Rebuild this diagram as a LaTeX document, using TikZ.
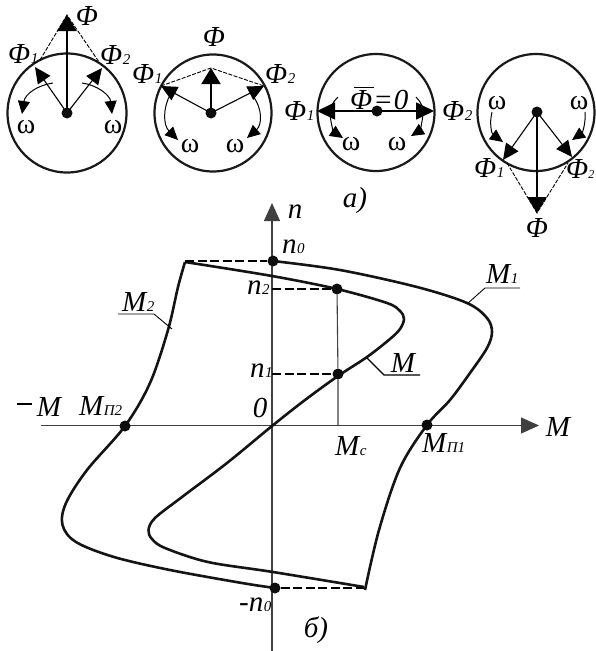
\documentclass[tikz,border=0pt]{standalone}
\usepackage{fontspec}
\setmainfont{Liberation Serif}
\usetikzlibrary{arrows.meta}
\tikzset{
 x=1pt,y=-1pt,
 rim/.style={line width=2.2pt,black!90},
 vec/.style={line width=1.1pt,-{Triangle[length=16pt,width=15pt]}},
 mainvec/.style={line width=2.1pt,-{Triangle[length=16pt,width=19pt]}},
 sidevec/.style={line width=1.7pt,-{Triangle[length=18pt,width=17pt]}},
 rot/.style={line width=1pt,-{Triangle[length=13pt,width=12pt]}},
 dsh/.style={line width=0.9pt,dash pattern=on 4pt off 1.5pt},
 ax/.style={line width=1.1pt,black!75},
 curve/.style={line width=2.6pt,black!92,line join=miter},
 hd/.style={line width=1.5pt,dash pattern=on 9pt off 3.5pt},
 dot/.style={circle,fill=black!95,inner sep=0pt,minimum size=11pt},
 sdot/.style={circle,fill=black!95,inner sep=0pt,minimum size=11pt},
 lbl/.style={inner sep=0pt,font=\fontsize{29}{29}\selectfont\itshape},
 lbs/.style={inner sep=0pt,font=\fontsize{28}{28}\selectfont},
 lead/.style={line width=0.9pt},
}
\newcommand{\lo}[1]{{\fontsize{15}{15}\selectfont\itshape\kern0.5pt #1}}
\newcommand{\los}[1]{{\fontsize{12}{12}\selectfont\itshape #1}}
\begin{document}
\begin{tikzpicture}
\useasboundingbox (0,0) rectangle (595,651);
\coordinate (c1) at (67,113); \coordinate (c2) at (211,113); \coordinate (c3) at (377,111); \coordinate (c4) at (537,112);
\draw[rim] (67,113) circle[radius=59.5];
\draw[rim] (213,113) circle[radius=58.5];
\draw[rim] (376,112.5) circle[radius=58.5];
\draw[rim] (536,112.5) circle[radius=58.5];
% circle 1
\coordinate (a1) at (35,67); \coordinate (a2) at (102,68); \coordinate (a3) at (67,15);
\draw[vec] (c1) -- (a1);
\draw[vec] (c1) -- (a2);
\draw[mainvec] (c1) -- (a3);
\draw[dsh] (40,60) -- (a3) -- (99,62);
\node[sdot] at (c1) {};
\draw[rot] (53,83) .. controls (38,85) and (25,94) .. (22,114);
\draw[rot] (82,83) .. controls (97,85) and (110,95) .. (112,114);
\node[lbs] at (26,127) {ω}; \node[lbs] at (113,127) {ω};
\node[lbl] at (87,16) {Φ};
\node[lbl,anchor=west] at (8,54) {Φ\lo{1}};
\node[lbl,anchor=west] at (100,55) {Φ\lo{2}};
% circle 2
\coordinate (b1) at (161,86); \coordinate (b2) at (264,86); \coordinate (b3) at (211,68);
\draw[vec] (c2) -- (b1);
\draw[vec] (c2) -- (b2);
\draw[mainvec,line width=1.9pt] (c2) -- (b3);
\draw[dsh] (b1) -- (b3) -- (b2);
\node[sdot] at (c2) {};
\draw[rot] (170,95) .. controls (163,108) and (163,125) .. (178,140);
\draw[rot] (252,95) .. controls (263,108) and (262,125) .. (247,138);
\node[lbs] at (190,146) {ω}; \node[lbs] at (235,146) {ω};
\node[lbl] at (214,37) {Φ};
\node[lbl,anchor=west] at (132,74) {Φ\lo{1}};
\node[lbl,anchor=west] at (265,74) {Φ\lo{2}};
% circle 3
\coordinate (d1) at (317,111); \coordinate (d2) at (434,111);
\draw[rot,-] (338,97) .. controls (332,103) and (330,108) .. (330,111);
\draw[rot,-] (416,97) .. controls (421,102) and (423,107) .. (423,111);
\draw[rot] (330,111) .. controls (330,122) and (334,132) .. (343,138);
\draw[rot] (423,111) .. controls (423,122) and (419,131) .. (411,136);
\draw[sidevec] (c3) -- (d1);
\draw[sidevec] (c3) -- (d2);
\node[sdot] at (c3) {};
\node[lbs] at (351,144) {ω}; \node[lbs] at (397,144) {ω};
\node[lbl,anchor=west] (z) at (350,100) {Φ\kern1pt=\kern1pt0};
\draw[line width=0.9pt] (354,87) -- (374,87);
\node[lbl,anchor=west] at (284,111) {Φ\lo{1}};
\node[lbl,anchor=west] at (442,111) {Φ\lo{2}};
% circle 4
\coordinate (e1) at (503,160); \coordinate (e2) at (572,157); \coordinate (e3) at (537,213);
\draw[vec] (c4) -- (e1);
\draw[vec] (c4) -- (e2);
\draw[mainvec] (c4) -- (e3);
\draw[dsh] (507,163) -- (e3) -- (568,163);
\node[sdot] at (c4) {};
\draw[rot] (492,112) .. controls (489,124) and (492,134) .. (503,142);
\draw[rot] (585,112) .. controls (586,124) and (582,133) .. (572,140);
\node[lbs] at (497,103) {ω}; \node[lbs] at (579,103) {ω};
\node[lbl,anchor=west] at (474,168) {Φ\lo{1}};
\node[lbl,anchor=west] at (566,169) {Φ\los{2}};
\node[lbl] at (537,228) {Φ};
\node[lbl] at (355,201) {a)};
% axes
\coordinate (ot) at (272,426); \coordinate (yt) at (272,203); \coordinate (yb) at (272,651);
\coordinate (xl) at (41,425.5); \coordinate (xr) at (539,425.5);
\draw[ax,-{Triangle[length=18pt,width=16pt]}] (yb) -- (yt);
\draw[ax,-{Triangle[length=18pt,width=16pt]}] (xl) -- (xr);
\node[lbl] at (295,212) {n};
\node[lbl] at (558,427) {M};
\draw[line width=2.4pt] (17,404) -- (32,404);
\node[lbl] at (49,407) {M};
\node[lbl] at (260,408) {0};
% curves
\draw[curve] plot[smooth,tension=0.55] coordinates {(275,588) (242,583) (170,570) (114,557) (76,542) (62.5,525) (66,503) (87,470) (125,426) (150,383) (168,330) (178,287) (185,262)};
\draw[curve] plot[smooth,tension=0.55] coordinates {(185,262) (272,276) (337,289) (387,303) (400,311) (404,319) (400,329) (390,339) (367,357) (338,376) (305,400) (272,426) (227,463) (182,497) (155,518) (148.5,530) (152,539) (165,548) (208,562) (273,572) (364,587)};
\draw[curve] plot[smooth,tension=0.55] coordinates {(365,590) (379,530) (400,468) (427,425) (450,400) (470,373) (487,348) (492,332) (487,318) (467,303) (417,287) (340,270) (273,261)};
% nodes
\node[dot] (n0) at (273,261) {};
\node[dot] (n2) at (337,289) {};
\node[dot] (n1) at (338,374) {};
\node[dot] (m2) at (125,426) {};
\node[dot] (m1) at (427,425) {};
\node[dot] (mn) at (275,588) {};
\draw[hd] (185,261) -- (n0);
\draw[hd] (272,289) -- (n2);
\draw[hd] (272,374) -- (n1);
\draw[hd] (mn) -- (364,588);
\draw[line width=1.1pt,black!75] (338,426) -- (n1) -- (n2);
% labels
\node[lbl,anchor=west] at (282,247) {n\lo{0}};
\node[lbl,anchor=west] at (247,288) {n\lo{2}};
\node[lbl,anchor=west] at (250,371) {n\lo{1}};
\node[lbl,anchor=west] at (335,446) {M\lo{c}};
\node[lbl,anchor=west] at (79,406) {M\lo{П2}};
\node[lbl,anchor=west] at (422,443) {M\lo{П1}};
\node[lbl,anchor=west] at (239,605) {-n\lo{0}};
\node[lbl] at (316,630) {б)};
\node[lbl,anchor=west] at (122,302) {M\lo{2}};
\node[lbl] at (403,363) {M};
\node[lbl,anchor=west] at (486,274) {M\lo{1}};
% leaders
\draw[lead] (118,314) -- (154,314) -- (172,329);
\draw[lead,line width=1.2pt] (420,375) -- (384,375) -- (367,358);
\draw[lead] (520,288) -- (485,288) -- (467,304);
\end{tikzpicture}
\end{document}
